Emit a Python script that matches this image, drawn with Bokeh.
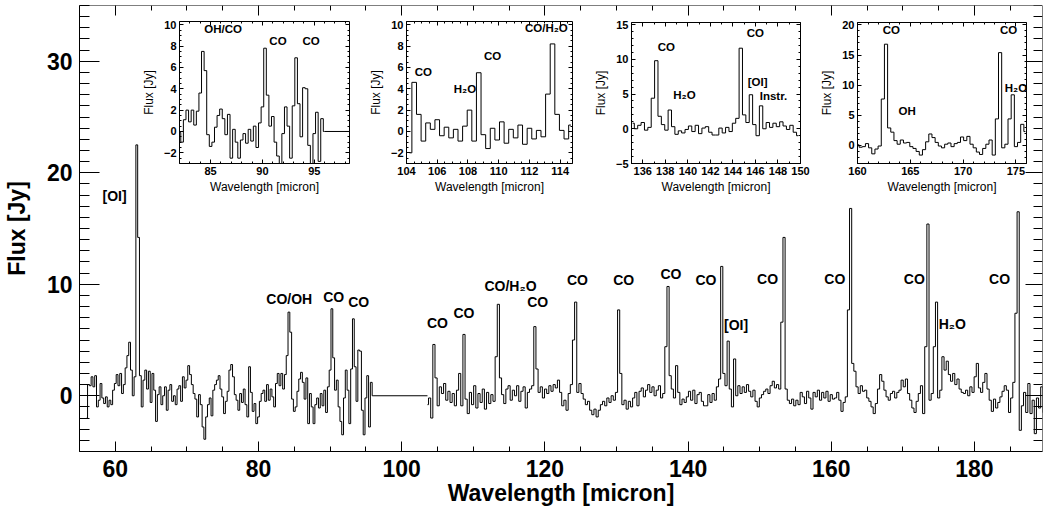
import numpy as np
from bokeh.plotting import figure
from bokeh.models import Range1d, LinearAxis, SingleIntervalTicker, CustomJSTickFormatter
from bokeh.core.properties import value
from bokeh.embed import file_html
from bokeh.resources import INLINE

FONT = "Liberation Sans"

# ---------------- data ----------------
# segment A : 56.0 .. 96.0 micron, 0.25 micron bins
wl_a_start, wl_a_step = 56.0, 0.25
flux_a = [
    -2.0, 1.0, 0.9, 1.7, 0.8, 1.8, -1.0, -0.4,
    1.1, -0.2, -0.7, -0.1, -1.0, -0.4, -0.8, 0.5,
    1.1, 1.9, 0.9, 2.0, 0.2, 1.0, 2.5, 3.6,
    4.8, 2.3, 0.0, 1.7, 22.5, 14.2, 1.8, -1.0,
    1.4, 2.3, 0.6, 2.2, -0.6, 2.0, 0.5, -2.3,
    0.1, 0.8, -0.8, 0.0, 0.8, -1.3, 0.5, 1.0,
    -0.5, 0.0, -0.8, 0.6, 0.9, -0.5, 1.7, 0.7,
    1.4, 2.7, 1.9, 1.0, 0.2, -0.3, -1.9, 0.1,
    -0.8, -2.8, -3.9, -1.9, -0.8, -0.2, -1.8, 0.5,
    1.0, 1.4, 1.8, 0.6, -0.1, -1.6, -0.5, 0.4,
    2.3, 2.8, 1.7, 0.1, -0.4, -1.3, 0.2, -0.6,
    0.6, -0.8, -1.9, 2.6, 0.3, -1.4, -0.7, -2.5,
    -1.9, -0.5, 0.2, 0.5, -0.5, 1.0, -0.4, 0.6,
    -0.1, -1.0, 1.1, 2.0, 0.9, 2.0, 0.6, 1.9,
    3.6, 7.5, 5.7, -0.3, -1.4, -1.0, 0.4, 1.5,
    2.1, 1.2, -0.3, 1.6, -2.5, 0.2, -1.0, -2.5,
    -0.8, -0.2, -1.1, 0.2, -0.9, 0.5, -1.5, 0.8,
    2.3, 7.8, 3.4, 0.5, 1.4, -1.0, -2.3, -3.5,
    -0.2, 2.3, 0.5, -2.5, 2.4, 6.9, 2.6, -0.5,
    4.1, 4.0, -1.3, -3.5, -0.2, 1.8, -2.8, 1.2,
    0.0,
]

# segment B : 103.6 .. 189.7 micron, 0.3 micron bins
wl_b_start, wl_b_step = 103.6, 0.3
flux_b = [
    -0.8, -0.2, -2.0, 4.6, 1.6, -0.9, 0.8, 0.2, 1.1, -0.4,
    0.4, -0.6, 0.2, -0.9, 0.5, 2.0, -0.9, 5.5, -0.3, -1.6,
    0.3, -0.8, 0.9, -1.1, 0.2, -0.6, 0.6, -1.2, 0.3, -0.7,
    0.1, -0.5, 3.5, 8.2, 1.6, 0.1, -0.7, 0.6, 0.9, -0.4,
    0.5, 0.0, 0.9, -0.5, 0.4, 0.8, -1.1, 0.3, 0.6, 0.9,
    6.2, 2.4, 0.3, 0.8, -0.2, 0.6, 0.2, 0.9, 0.4, 1.0,
    0.7, 1.4, 0.3, -0.9, -0.4, -1.3, 0.2, 1.0, 5.0, 8.4,
    0.3, 1.1, 0.2, -0.3, -0.8, -0.5, -1.3, -1.7, -1.2, -1.9,
    -1.3, -0.8, -0.5, -0.9, -0.2, -0.6, 0.0, -0.4, 0.3, 7.7,
    2.0, -0.8, -0.4, -1.2, -0.5, -1.0, -0.2, 0.3, -0.9, 0.4,
    0.7, -0.1, 0.5, 1.0, 0.3, 0.8, 0.0, 0.5, 0.9, -0.2,
    0.2, 4.4, 9.8, 1.8, 0.6, -0.2, 2.7, 0.3, -0.8, -0.3,
    -0.6, -0.1, 0.4, -0.4, 0.5, -0.7, 0.1, 0.3, -0.5, -0.9,
    -0.9, 0.1, -0.6, 0.2, -0.4, 0.8, 1.5, 11.6, 2.0, 0.9,
    4.9, 0.6, -1.0, 3.3, 0.0, 0.9, 0.2, 0.8, 0.3, 1.0,
    0.4, -0.1, 0.5, -0.5, -1.0, -0.2, 0.1, 0.4, 0.6, 0.2,
    0.9, 1.3, 0.7, 1.0, 0.6, 6.6, 14.2, 0.6, -0.4, -0.7,
    -0.3, -0.9, -0.4, -0.8, 0.3, -0.1, -0.7, 0.4, -0.2, -1.2,
    0.3, -0.1, 0.5, -0.4, 0.3, -0.2, 0.4, -0.5, 0.1, -0.3,
    -0.2, 0.3, -0.4, -1.4, -0.6, -0.1, 7.7, 16.8, 2.9, 2.2,
    0.8, 0.2, 0.9, 0.4, 0.5, -0.2, -0.5, -1.0, -1.6, -0.7,
    0.6, 1.9, 1.3, 0.5, -0.1, -0.4, 0.2, 0.4, -0.2, 0.3,
    0.5, 1.4, 0.8, 1.5, 0.2, -0.4, -1.1, -1.5, -0.5, 0.2,
    0.9, -1.6, 4.4, 15.4, -0.4, 0.2, 4.4, 8.4, -0.2, 0.5,
    3.5, 2.3, 3.1, 1.9, 1.3, 2.0, 1.0, 1.5, 0.6, 0.3,
    0.2, 0.5, 0.0, 0.8, 0.3, 1.7, 2.9, 0.7, 0.3, 1.2,
    2.0, 0.6, -0.4, -1.4, -0.3, -1.1, -0.6, -0.1, 0.4, 0.9,
    0.5, -1.5, -0.2, 1.2, 7.4, 16.5, -3.1, -0.9, 0.3, -1.5,
    1.1, -1.6, -0.4, -3.4, -0.2, -1.1, 0.8, -1.5,
]

# flat (no data) stretch between the two segments
gap_wl = [96.0, 103.6]
gap_flux = [0.0, 0.0]

# main panel axis ranges
main_xrange = (55.0, 189.5)
main_yrange = (-5.0, 35.0)

# main panel line identifications
main_label_text = ["[OI]", "CO/OH", "CO", "CO", "CO", "CO", "CO/H\u2082O", "CO", "CO", "CO",
                   "CO", "CO", "[OI]", "CO", "CO", "CO", "H\u2082O", "CO"]
main_label_x = [59.9, 84.3, 90.5, 94.0, 105.0, 108.7, 115.2, 119.0, 124.55, 131.0,
                137.6, 142.5, 146.7, 151.1, 160.5, 171.6, 176.9, 183.5]
main_label_y = [17.9, 8.65, 8.9, 8.4, 6.5, 7.45, 9.85, 8.4, 10.4, 10.4,
                10.9, 10.4, 6.35, 10.45, 10.45, 10.45, 6.4, 10.45]

# inset axis ranges
inset1_xrange, inset1_yrange = (82.0, 98.4), (-3.0, 10.3)
inset2_xrange, inset2_yrange = (104.0, 114.8), (-3.0, 10.3)
inset3_xrange, inset3_yrange = (135.0, 150.0), (-5.0, 15.3)
inset4_xrange, inset4_yrange = (160.0, 176.0), (-3.0, 20.4)

# inset line identifications
inset1_text = ["OH/CO", "CO", "CO"]
inset1_x = [86.2, 91.5, 94.7]
inset1_y = [9.6, 8.45, 8.45]
inset2_text = ["CO", "H\u2082O", "CO", "CO/H\u2082O"]
inset2_x = [105.1, 107.8, 109.6, 113.1]
inset2_y = [5.55, 4.0, 7.1, 9.7]
inset3_text = ["CO", "H\u2082O", "CO", "[OI]", "Instr."]
inset3_x = [138.1, 139.7, 146.0, 146.2, 147.6]
inset3_y = [11.75, 4.8, 13.8, 6.7, 4.75]
inset4_text = ["CO", "OH", "CO", "H\u2082O"]
inset4_x = [163.2, 164.7, 174.3, 175.0]
inset4_y = [19.1, 5.75, 19.1, 9.45]

# ---------------- layout / styling ----------------
FL, FT, FW, FH = 79, 5, 963, 446          # frame left/top (page px), width, height
FR, FB = FL + FW, FT + FH

wl_a = wl_a_start + wl_a_step * np.arange(len(flux_a))
wl_b = wl_b_start + wl_b_step * np.arange(len(flux_b))
fa = np.array(flux_a)
fb = np.array(flux_b)

p = figure(frame_width=FW, frame_height=FH,
           x_range=Range1d(*main_xrange), y_range=Range1d(*main_yrange),
           output_backend="svg", toolbar_location=None, title=None,
           min_border_left=FL, min_border_right=1, min_border_top=FT, min_border_bottom=0,
           outline_line_color=None, background_fill_color="white", border_fill_color="white")
p.grid.visible = False

BLANK = "return ''"


def style(ax, maj, mnr, lab_size, title_size, title_style, lab_standoff, title_standoff):
    ax.major_tick_in = maj
    ax.major_tick_out = 0
    ax.minor_tick_in = mnr
    ax.minor_tick_out = 0
    ax.axis_line_color = "black"
    ax.major_tick_line_color = "black"
    ax.minor_tick_line_color = "black"
    ax.major_label_text_font = FONT
    ax.major_label_text_font_style = "bold"
    ax.major_label_text_font_size = lab_size
    ax.major_label_text_color = "black"
    ax.major_label_standoff = lab_standoff
    ax.axis_label_text_font = FONT
    ax.axis_label_text_font_size = title_size
    ax.axis_label_text_font_style = title_style
    ax.axis_label_text_color = "black"
    ax.axis_label_standoff = title_standoff


# main axes
xa = p.xaxis[0]
xa.ticker = SingleIntervalTicker(interval=20, num_minor_ticks=4)
xa.axis_label = "Wavelength [micron]"
style(xa, 10, 5, "23px", "23px", "bold", 8, 0)

ya = p.yaxis[0]
ya.ticker = SingleIntervalTicker(interval=10, num_minor_ticks=10)
ya.axis_label = "Flux [Jy]"
style(ya, 20, 10, "23px", "23px", "bold", 7, 14)

top = LinearAxis(fixed_location=main_yrange[1],
                 ticker=SingleIntervalTicker(interval=20, num_minor_ticks=4),
                 formatter=CustomJSTickFormatter(code=BLANK))
style(top, 10, 5, "10px", "10px", "normal", 0, 0)
p.add_layout(top, "above")

right = LinearAxis(fixed_location=main_xrange[1],
                   ticker=SingleIntervalTicker(interval=10, num_minor_ticks=10),
                   formatter=CustomJSTickFormatter(code=BLANK))
style(right, 17, 9, "10px", "10px", "normal", 0, 0)
p.add_layout(right, "right")

# main spectrum
p.step(wl_a, fa, mode="center", line_color="black", line_width=1)
p.line(gap_wl, gap_flux, line_color="black", line_width=1)
p.step(wl_b, fb, mode="center", line_color="black", line_width=1)

p.text(x=main_label_x, y=main_label_y, text=main_label_text,
       text_font=value(FONT), text_font_size="14px", text_font_style="bold",
       text_align="center", text_baseline="middle", text_color="black")

# ---------------- insets ----------------
specs = [
    ("i1", (179, 349, 21, 163), inset1_xrange, inset1_yrange, (5, 5), (2, 4), inset1_text, inset1_x, inset1_y),
    ("i2", (406, 572, 21, 163), inset2_xrange, inset2_yrange, (2, 4), (2, 4), inset2_text, inset2_x, inset2_y),
    ("i3", (631, 800, 22, 163), inset3_xrange, inset3_yrange, (2, 2), (5, 5), inset3_text, inset3_x, inset3_y),
    ("i4", (857, 1026, 22, 163), inset4_xrange, inset4_yrange, (5, 5), (5, 5), inset4_text, inset4_x, inset4_y),
]

exr, eyr = {}, {}
for name, (x0p, x1p, y0p, y1p), (x0, x1), (y0, y1), _, _, _, _, _ in specs:
    kx = (x1 - x0) / (x1p - x0p)
    ky = (y1 - y0) / (y1p - y0p)
    exr[name + "x"] = Range1d(x0 - (x0p - FL) * kx, x1 + (FR - x1p) * kx)
    eyr[name + "y"] = Range1d(y0 - (FB - y1p) * ky, y1 + (y0p - FT) * ky)
p.extra_x_ranges = exr
p.extra_y_ranges = eyr

for name, box, (x0, x1), (y0, y1), xt, yt, ltext, lx, ly in specs:
    xn, yn = name + "x", name + "y"
    kw = dict(x_range_name=xn, y_range_name=yn)

    b = LinearAxis(fixed_location=y0, bounds=(x0, x1), axis_label="Wavelength [micron]",
                   ticker=SingleIntervalTicker(interval=xt[0], num_minor_ticks=xt[1]), **kw)
    style(b, 4, 2, "11px", "12px", "normal", 3, 2)
    p.add_layout(b, "below")

    t = LinearAxis(fixed_location=y1, bounds=(x0, x1),
                   ticker=SingleIntervalTicker(interval=xt[0], num_minor_ticks=xt[1]),
                   formatter=CustomJSTickFormatter(code=BLANK), **kw)
    style(t, 4, 2, "10px", "10px", "normal", 0, 0)
    p.add_layout(t, "above")

    l = LinearAxis(fixed_location=x0, bounds=(y0, y1), axis_label="Flux [Jy]",
                   ticker=SingleIntervalTicker(interval=yt[0], num_minor_ticks=yt[1]), **kw)
    style(l, 4, 2, "11px", "12px", "normal", 3, 5)
    p.add_layout(l, "left")

    r = LinearAxis(fixed_location=x1, bounds=(y0, y1),
                   ticker=SingleIntervalTicker(interval=yt[0], num_minor_ticks=yt[1]),
                   formatter=CustomJSTickFormatter(code=BLANK), **kw)
    style(r, 4, 2, "10px", "10px", "normal", 0, 0)
    p.add_layout(r, "right")

    for wl, fl in ((wl_a, fa), (wl_b, fb)):
        m = (wl >= x0) & (wl <= x1)
        if m.sum() > 1:
            p.step(wl[m], np.clip(fl[m], y0, y1), mode="center",
                   line_color="black", line_width=1, **kw)
    gx = np.clip(np.array(gap_wl), x0, x1)
    if gx[1] > gx[0]:
        p.line(gx, np.clip(np.array(gap_flux), y0, y1), line_color="black", line_width=1, **kw)

    p.text(x=lx, y=ly, text=ltext, text_font=value(FONT), text_font_size="11.5px",
           text_font_style="bold", text_align="center", text_baseline="middle",
           text_color="black", **kw)

open("out.html", "w").write(file_html(p, INLINE, "spectrum"))
